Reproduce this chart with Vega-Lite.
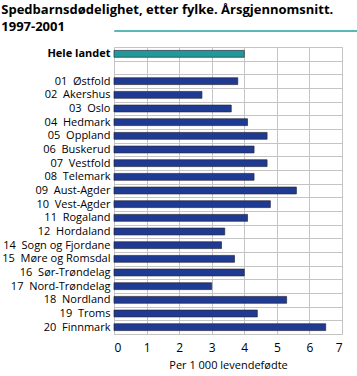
{
  "$schema": "https://vega.github.io/schema/vega-lite/v6.json",
  "padding": {"left": 1, "right": 2, "top": 3, "bottom": 1},
  "background": "white",
  "title": {
    "text": ["Spedbarnsdødelighet, etter fylke. Årsgjennomsnitt.", "1997-2001"],
    "anchor": "start",
    "frame": "bounds",
    "font": "Open Sans",
    "fontSize": 13,
    "fontWeight": "bold",
    "color": "#000000",
    "lineHeight": 17,
    "offset": -4
  },
  "spacing": 8,
  "config": {"font": "Open Sans", "view": {"stroke": "#c8c8c8"}, "axis": {"gridColor": "#c4c4c4", "gridWidth": 1, "gridOpacity": 1}},
  "vconcat": [
    {
      "width": 354,
      "height": 1,
      "view": {"stroke": "#5ab8b8", "strokeWidth": 1},
      "data": {"values": []},
      "mark": "rule",
      "encoding": {}
    },
    {
      "spacing": 4,
      "vconcat": [
        {
          "width": 228,
          "height": 287,
          "data": {
            "values": [
              {"region": "Hele landet", "value": 4.0, "type": "total"},
              {"region": "01\u00a0\u00a0Østfold", "value": 3.8, "type": "fylke"},
              {"region": "02\u00a0\u00a0Akershus", "value": 2.7, "type": "fylke"},
              {"region": "03\u00a0\u00a0Oslo", "value": 3.6, "type": "fylke"},
              {"region": "04\u00a0\u00a0Hedmark", "value": 4.1, "type": "fylke"},
              {"region": "05\u00a0\u00a0Oppland", "value": 4.7, "type": "fylke"},
              {"region": "06\u00a0\u00a0Buskerud", "value": 4.3, "type": "fylke"},
              {"region": "07\u00a0\u00a0Vestfold", "value": 4.7, "type": "fylke"},
              {"region": "08\u00a0\u00a0Telemark", "value": 4.3, "type": "fylke"},
              {"region": "09\u00a0\u00a0Aust-Agder", "value": 5.6, "type": "fylke"},
              {"region": "10\u00a0\u00a0Vest-Agder", "value": 4.8, "type": "fylke"},
              {"region": "11\u00a0\u00a0Rogaland", "value": 4.1, "type": "fylke"},
              {"region": "12\u00a0\u00a0Hordaland", "value": 3.4, "type": "fylke"},
              {"region": "14\u00a0\u00a0Sogn og Fjordane", "value": 3.3, "type": "fylke"},
              {"region": "15\u00a0\u00a0Møre og Romsdal", "value": 3.7, "type": "fylke"},
              {"region": "16\u00a0\u00a0Sør-Trøndelag", "value": 4.0, "type": "fylke"},
              {"region": "17\u00a0\u00a0Nord-Trøndelag", "value": 3.0, "type": "fylke"},
              {"region": "18\u00a0\u00a0Nordland", "value": 5.3, "type": "fylke"},
              {"region": "19\u00a0\u00a0Troms", "value": 4.4, "type": "fylke"},
              {"region": "20\u00a0\u00a0Finnmark", "value": 6.5, "type": "fylke"}
            ]
          },
          "mark": {"type": "bar", "height": {"band": 0.5}, "stroke": "#2a2a3a", "strokeWidth": 0.7},
          "encoding": {
            "y": {
              "field": "region",
              "type": "nominal",
              "scale": {
                "domain": ["Hele landet", "blank", "01\u00a0\u00a0Østfold", "02\u00a0\u00a0Akershus", "03\u00a0\u00a0Oslo", "04\u00a0\u00a0Hedmark", "05\u00a0\u00a0Oppland", "06\u00a0\u00a0Buskerud", "07\u00a0\u00a0Vestfold", "08\u00a0\u00a0Telemark", "09\u00a0\u00a0Aust-Agder", "10\u00a0\u00a0Vest-Agder", "11\u00a0\u00a0Rogaland", "12\u00a0\u00a0Hordaland", "14\u00a0\u00a0Sogn og Fjordane", "15\u00a0\u00a0Møre og Romsdal", "16\u00a0\u00a0Sør-Trøndelag", "17\u00a0\u00a0Nord-Trøndelag", "18\u00a0\u00a0Nordland", "19\u00a0\u00a0Troms", "20\u00a0\u00a0Finnmark"],
                "paddingInner": 0,
                "paddingOuter": 0
              },
              "axis": {
                "title": null,
                "grid": true,
                "tickBand": "extent",
                "ticks": false,
                "domain": false,
                "labelPadding": 4,
                "labelFont": "Open Sans",
                "labelFontSize": 11,
                "labelColor": "#000000",
                "labelExpr": "datum.value == 'blank' ? '' : datum.value",
                "labelFontWeight": {"condition": {"test": "datum.value == 'Hele landet'", "value": "bold"}, "value": "normal"}
              }
            },
            "x": {
              "field": "value",
              "type": "quantitative",
              "scale": {"domain": [0, 7], "nice": false},
              "axis": {
                "values": [0, 1, 2, 3, 4, 5, 6, 7],
                "title": "Per 1 000 levendefødte",
                "titleFont": "Open Sans",
                "titleFontSize": 11,
                "titleFontWeight": "normal",
                "titleColor": "#000000",
                "titlePadding": 6,
                "grid": true,
                "ticks": false,
                "domain": false,
                "labelPadding": 8,
                "labelFont": "Open Sans",
                "labelFontSize": 12,
                "labelColor": "#000000"
              }
            },
            "color": {
              "field": "type",
              "type": "nominal",
              "scale": {"domain": ["total", "fylke"], "range": ["#1f9a9a", "#1f3a93"]},
              "legend": null
            }
          }
        },
        {
          "width": 354,
          "height": 1,
          "view": {"stroke": "#5ab8b8", "strokeWidth": 1},
          "data": {"values": []},
          "mark": "rule",
          "encoding": {}
        }
      ]
    }
  ]
}
